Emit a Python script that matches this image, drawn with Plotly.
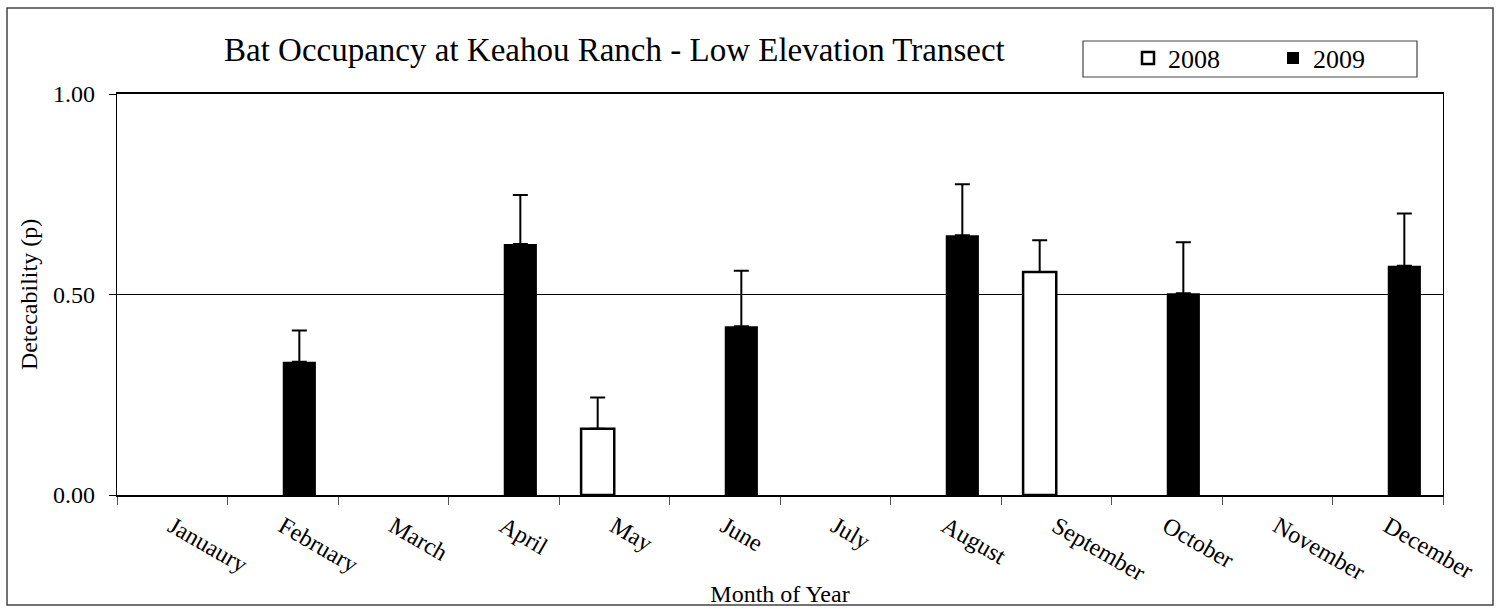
import plotly.graph_objects as go

months = ["Januaury", "February", "March", "April", "May", "June", "July",
          "August", "September", "October", "November", "December"]
p2008 = [None, None, None, None, 0.165, None, None, None, 0.556, None, None, None]
err2008 = [None, None, None, None, 0.078, None, None, None, 0.079, None, None, None]
p2009 = [None, 0.332, None, 0.626, None, 0.421, None, 0.648, None, 0.503, None, 0.572]
err2009 = [None, 0.078, None, 0.122, None, 0.138, None, 0.127, None, 0.127, None, 0.130]

FONT = "Liberation Serif, Times New Roman, serif"

fig = go.Figure()
fig.add_trace(go.Bar(
    name="2008", x=months, y=p2008,
    marker=dict(color="white", line=dict(color="black", width=2.5)),
    error_y=dict(type="data", array=err2008, symmetric=False, arrayminus=[0]*12,
                 color="black", thickness=2, width=7.5),
))
fig.add_trace(go.Bar(
    name="2009", x=months, y=p2009,
    marker=dict(color="black", line=dict(color="black", width=0)),
    error_y=dict(type="data", array=err2009, symmetric=False, arrayminus=[0]*12,
                 color="black", thickness=2, width=7.5),
))

L, R, T, B = 117, 57, 94, 114
W, H = 1500, 609
pw, ph = W - L - R, H - T - B

def px_x(x):
    return (x - L) / pw

def px_y(y):
    return (H - B - y) / ph

fig.update_layout(
    width=W, height=H,
    margin=dict(l=L, r=R, t=T, b=B, autoexpand=False),
    paper_bgcolor="white", plot_bgcolor="white",
    font=dict(family=FONT, size=24, color="black"),
    barmode="group", bargap=0.4, bargroupgap=0,
    showlegend=True,
    legend=dict(orientation="h", x=px_x(1128), xanchor="left",
                y=px_y(58), yanchor="middle",
                font=dict(family=FONT, size=26, color="black"), entrywidth=100,
                bgcolor="rgba(0,0,0,0)", borderwidth=0, itemclick=False),
    xaxis=dict(
        type="category", tickson="boundaries", ticks="outside", ticklen=8,
        tickcolor="#555", tickwidth=1, tickangle=30, ticklabelstandoff=6,
        showline=True, linecolor="black", linewidth=2, mirror=True,
        showgrid=False,
        title=dict(text="Month of Year", font=dict(family=FONT, size=24), standoff=0),
        tickfont=dict(family=FONT, size=24),
    ),
    yaxis=dict(
        range=[0, 1], tickvals=[0, 0.5, 1], tickformat=".2f",
        ticks="outside", ticklen=7, tickcolor="black", tickwidth=1,
        ticklabelstandoff=9,
        showline=True, linecolor="black", linewidth=1.3, mirror=True,
        showgrid=True, gridcolor="black", gridwidth=1, zeroline=False,
        title=dict(text="Detecability (p)", font=dict(family=FONT, size=24), standoff=8),
        tickfont=dict(family=FONT, size=24),
    ),
    annotations=[dict(
        text="Bat Occupancy at Keahou Ranch - Low Elevation Transect",
        xref="paper", yref="paper", x=px_x(614), y=px_y(50),
        xanchor="center", yanchor="middle", showarrow=False,
        font=dict(family=FONT, size=33, color="black"),
    )],
    shapes=[
        dict(type="rect", xref="paper", yref="paper",
             x0=px_x(7), x1=px_x(1493), y0=px_y(605), y1=px_y(8),
             line=dict(color="#444", width=1.5), fillcolor="rgba(0,0,0,0)", layer="below"),
        dict(type="rect", xref="paper", yref="paper",
             x0=px_x(1083), x1=px_x(1417), y0=px_y(77), y1=px_y(41),
             line=dict(color="#444", width=1.2), fillcolor="rgba(0,0,0,0)"),
    ],
)

fig.write_html(
    "out.html",
    config={"displayModeBar": False, "staticPlot": False},
    post_script="document.body.style.margin='0';document.body.style.padding='0';"
                "document.body.style.overflow='hidden';",
)
